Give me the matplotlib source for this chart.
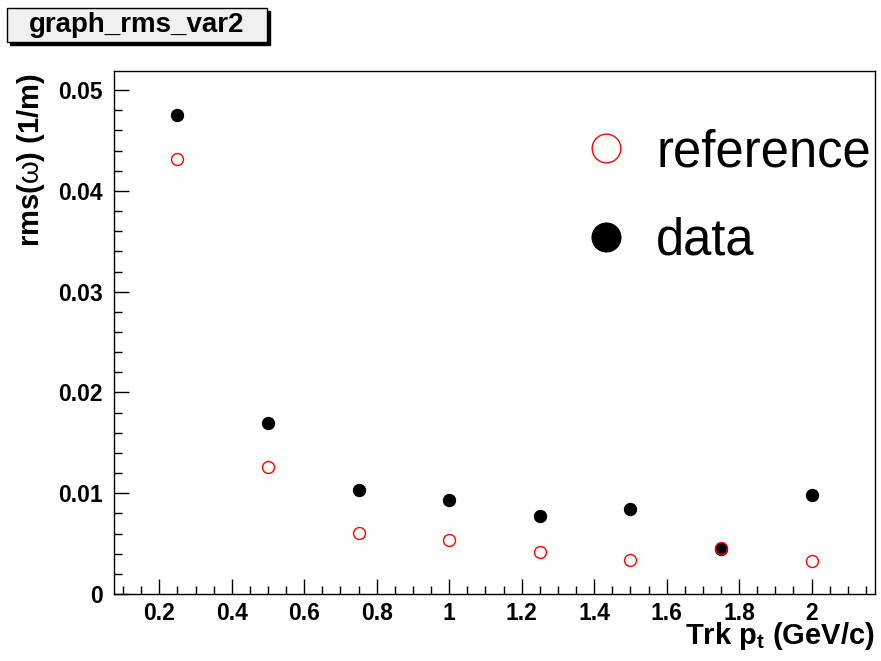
import numpy as np
import matplotlib.pyplot as plt
from matplotlib.patches import Rectangle
from matplotlib.ticker import MultipleLocator

plt.rcParams['font.family'] = ['Liberation Sans', 'DejaVu Sans']
plt.rcParams['mathtext.fontset'] = 'custom'
plt.rcParams['mathtext.rm'] = 'Liberation Sans:bold'
plt.rcParams['mathtext.it'] = 'Liberation Sans'

# track pt bins (GeV/c)
pt = [0.25, 0.5, 0.75, 1.0, 1.25, 1.5, 1.75, 2.0]
# rms(omega) in 1/m
rms_data = [0.04751, 0.01700, 0.01034, 0.00934, 0.00775, 0.00845, 0.00447, 0.00984]
rms_ref = [0.04314, 0.01262, 0.00606, 0.00537, 0.00418, 0.00338, 0.00457, 0.00328]

fig = plt.figure(figsize=(8.81, 6.61), dpi=100)
ax = fig.add_axes([114/881, 1-594/661, 761/881, 523/661])

ax.plot(pt, rms_data, linestyle="none", marker="o", markersize=8.6,
        color="black", label="data")
ax.plot(pt, rms_ref, linestyle="none", marker="o", markersize=8.6,
        markerfacecolor="none", markeredgecolor="red", markeredgewidth=1.0,
        label="reference")

ax.set_xlim(0.075, 2.175)
ax.set_ylim(0, 0.0519)

ax.xaxis.set_major_locator(MultipleLocator(0.2))
ax.xaxis.set_minor_locator(MultipleLocator(0.05))
ax.yaxis.set_major_locator(MultipleLocator(0.01))
ax.yaxis.set_minor_locator(MultipleLocator(0.002))
ax.xaxis.set_major_formatter(plt.FuncFormatter(lambda v, p: "%g" % round(v, 3)))
ax.yaxis.set_major_formatter(plt.FuncFormatter(lambda v, p: "%g" % round(v, 4)))

ax.tick_params(which="both", direction="in", top=False, right=False,
               labelsize=16.5, width=1)
ax.tick_params(which="major", length=11)
ax.tick_params(which="minor", length=6)
ax.tick_params(axis="x", pad=6)
ax.tick_params(axis="y", pad=8)
for lab in ax.get_xticklabels() + ax.get_yticklabels():
     lab.set_fontweight("bold")
for s in ax.spines.values():
     s.set_linewidth(1)

ax.set_xlabel(r"Trk p$_\mathrm{t}$ (GeV/c)", fontsize=21, fontweight="bold", loc="right")
ax.set_ylabel(r"rms($\omega$) (1/m)", fontsize=21, fontweight="bold", loc="top")
ax.xaxis.set_label_coords(1.0, -0.05)
ax.yaxis.set_label_coords(-0.088, 0.995)

h, l = ax.get_legend_handles_labels()
leg = ax.legend(h[::-1], l[::-1], loc="upper left", bbox_to_anchor=(0.556, 0.978),
                frameon=False, fontsize=36.5, markerscale=2.4, handlelength=0.9,
                handletextpad=0.55, labelspacing=0.78)

# title box with shadow, ROOT style
fig.patches.append(Rectangle((10/881, 1-45/661), 260/881, 34/661, transform=fig.transFigure,
                             facecolor="black", edgecolor="black", zorder=1))
fig.patches.append(Rectangle((7/881, 1-42/661), 260/881, 34/661, transform=fig.transFigure,
                             facecolor="#f0f0f0", edgecolor="black", linewidth=1, zorder=2))
fig.text(137/881, 1-25/661, "graph_rms_var2", fontsize=20, fontweight="bold",
         ha="center", va="center", zorder=3)

fig.savefig("out.png", dpi=100)
